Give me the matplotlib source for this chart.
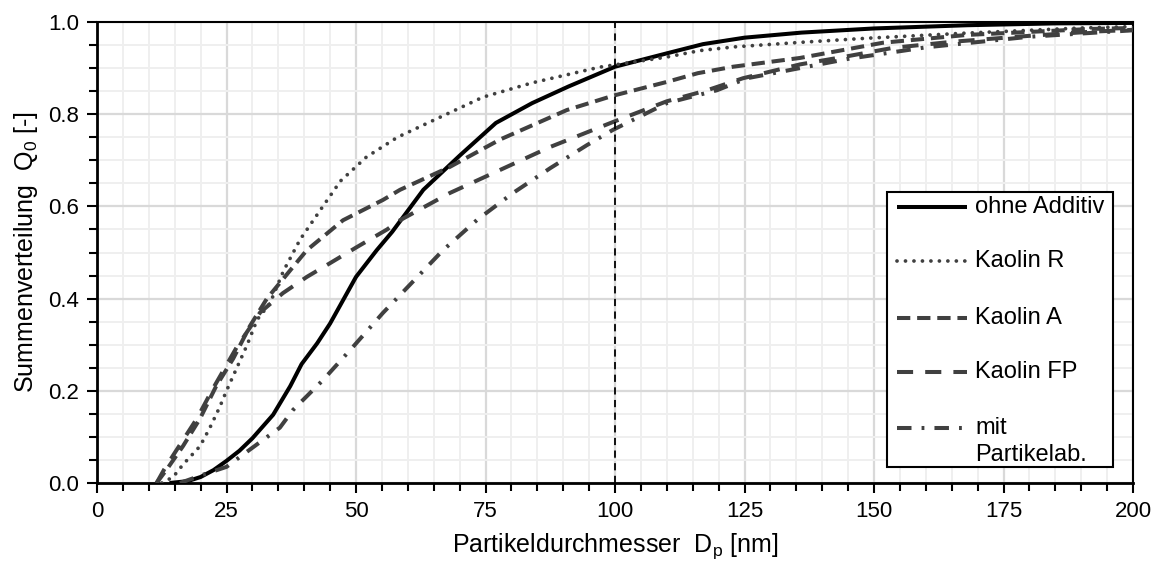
import matplotlib
matplotlib.use("Agg")
import matplotlib.pyplot as plt
from matplotlib.ticker import MultipleLocator
from matplotlib.patches import Rectangle
from matplotlib.lines import Line2D

plt.rcParams['font.family'] = ['Liberation Sans', 'DejaVu Sans']
plt.rcParams['mathtext.fontset'] = 'custom'
plt.rcParams['mathtext.rm'] = 'Liberation Sans'
plt.rcParams['mathtext.it'] = 'Liberation Sans'

# ---- data ----
d_ohne = [14, 17.5, 20, 22.5, 25, 27.5, 30, 34, 37.3, 39.5, 42.5, 45, 50, 54, 57, 63, 70, 77, 84, 91, 100, 110, 117, 125, 136, 150, 168, 185, 200]
q_ohne = [0, 0.004, 0.013, 0.028, 0.048, 0.07, 0.097, 0.148, 0.21, 0.258, 0.303, 0.346, 0.447, 0.505, 0.545, 0.636, 0.71, 0.781, 0.824, 0.86, 0.903, 0.932, 0.952, 0.966, 0.977, 0.986, 0.993, 0.997, 0.998]

d_r = [12.5, 14.7, 16.6, 19.9, 21.8, 23.7, 25, 27, 29, 30.9, 33.4, 36, 39.2, 43.6, 47, 52, 58, 65, 74.5, 84, 97, 110, 116.4, 123, 136, 149, 168, 190, 200]
q_r = [0, 0.013, 0.04, 0.08, 0.12, 0.165, 0.2, 0.25, 0.3, 0.354, 0.39, 0.46, 0.528, 0.6, 0.655, 0.707, 0.75, 0.787, 0.837, 0.868, 0.902, 0.924, 0.938, 0.946, 0.956, 0.965, 0.976, 0.987, 0.99]

d_a = [11.5, 13.5, 16.6, 19.9, 23, 26.3, 29.5, 32.8, 35.3, 40.5, 47.5, 55.2, 58.5, 68, 77.8, 90.7, 99.6, 110, 116, 122.8, 135.7, 151.7, 168, 192, 200]
q_a = [0, 0.03, 0.08, 0.14, 0.21, 0.27, 0.34, 0.4, 0.434, 0.505, 0.57, 0.614, 0.636, 0.685, 0.745, 0.809, 0.84, 0.87, 0.889, 0.903, 0.922, 0.955, 0.972, 0.985, 0.987]

d_fp = [11.5, 13, 14.7, 19.3, 22.4, 27, 31.5, 35.9, 40.5, 45, 50.2, 56, 58.5, 68.1, 77.8, 87.5, 99.6, 110, 117.8, 124.7, 135.7, 145, 153.7, 165, 180, 192, 200]
q_fp = [0, 0.03, 0.06, 0.14, 0.205, 0.295, 0.37, 0.412, 0.447, 0.477, 0.512, 0.55, 0.57, 0.629, 0.679, 0.729, 0.783, 0.828, 0.852, 0.878, 0.908, 0.926, 0.944, 0.957, 0.97, 0.979, 0.983]

d_mit = [16, 21, 25, 28, 32, 35.3, 37.8, 43.6, 49.4, 55.2, 61, 66.8, 73.4, 80.3, 87.5, 94.6, 99.6, 110, 119.7, 125.5, 135.7, 145, 160, 180, 200]
q_mit = [0, 0.02, 0.035, 0.06, 0.093, 0.12, 0.158, 0.223, 0.295, 0.369, 0.437, 0.505, 0.571, 0.629, 0.683, 0.733, 0.766, 0.824, 0.852, 0.878, 0.9, 0.92, 0.945, 0.968, 0.982]

labels = ["ohne Additiv", "Kaolin R", "Kaolin A", "Kaolin FP", "mit\nPartikelab."]
x_ticks = [0, 25, 50, 75, 100, 125, 150, 175, 200]
y_ticks = [0.0, 0.2, 0.4, 0.6, 0.8, 1.0]
x_ref = 100

gray = '#404040'
styles = [
    dict(color='black', lw=2.9, ls='-'),
    dict(color=gray, lw=2.7, ls=(0, (0.01, 2.25)), dash_capstyle='round'),
    dict(color=gray, lw=2.9, ls=(0, (3.3, 1.7))),
    dict(color=gray, lw=2.9, ls=(0, (4.0, 3.0))),
    dict(color=gray, lw=2.9, ls=(0, (3.6, 2.5, 0.7, 2.5))),
]
series = [(d_ohne, q_ohne), (d_r, q_r), (d_a, q_a), (d_fp, q_fp), (d_mit, q_mit)]

fig = plt.figure(figsize=(11.58, 5.64), dpi=100)
ax = fig.add_axes([97/1158, 1-483/564, (1133-97)/1158, (483-22)/564])

ax.set_xlim(0, 200)
ax.set_ylim(0, 1)
ax.xaxis.set_minor_locator(MultipleLocator(5))
ax.yaxis.set_minor_locator(MultipleLocator(0.05))
ax.set_xticks(x_ticks)
ax.set_yticks(y_ticks)
ax.set_yticklabels([f"{v:.1f}" for v in y_ticks])

ax.grid(which='minor', color='#efefef', lw=1.4, zorder=0)
ax.grid(which='major', color='#d9d9d9', lw=1.6, zorder=0)
ax.set_axisbelow(True)

ax.tick_params(which='both', direction='out', length=7, width=1.5, labelsize=16, pad=6,
               top=False, right=False)
ax.tick_params(which='minor', length=6)
for s in ['left', 'bottom']:
    ax.spines[s].set_linewidth(2.0)
for s in ['top', 'right']:
    ax.spines[s].set_linewidth(1.5)

for (dx, qy), st in zip(series, styles):
    ax.plot(dx, qy, solid_capstyle='butt', solid_joinstyle='round', zorder=3, **st)

ax.axvline(x_ref, color='black', lw=1.3, ls=(0, (4, 3)), zorder=4)

ax.set_xlabel("Partikeldurchmesser  D$_\\mathregular{p}$ [nm]", fontsize=18, labelpad=7)
ax.set_ylabel("Summenverteilung  Q$_\\mathregular{0}$ [-]", fontsize=18, labelpad=6)

# ---- legend (drawn manually to match layout) ----
def fx(px):
    return px / 1158

def fy(py):
    return 1 - py / 564

fig.patches.append(Rectangle((fx(887), fy(467)), fx(1113) - fx(887), fy(192) - fy(467),
                             transform=fig.transFigure, facecolor='white',
                             edgecolor='black', lw=1.5, zorder=10))
rows = [207, 261, 318, 372, 428]
for lab, st, yy in zip(labels, styles, rows):
    fig.lines.append(Line2D([fx(897), fx(967)], [fy(yy), fy(yy)], transform=fig.transFigure,
                            zorder=11, solid_capstyle='butt', **st))
    for k, part in enumerate(lab.split("\n")):
        fig.text(fx(975), fy(yy + 27 * k), part, fontsize=17, va='center', ha='left', zorder=12)

fig.savefig("out.png", dpi=100)
